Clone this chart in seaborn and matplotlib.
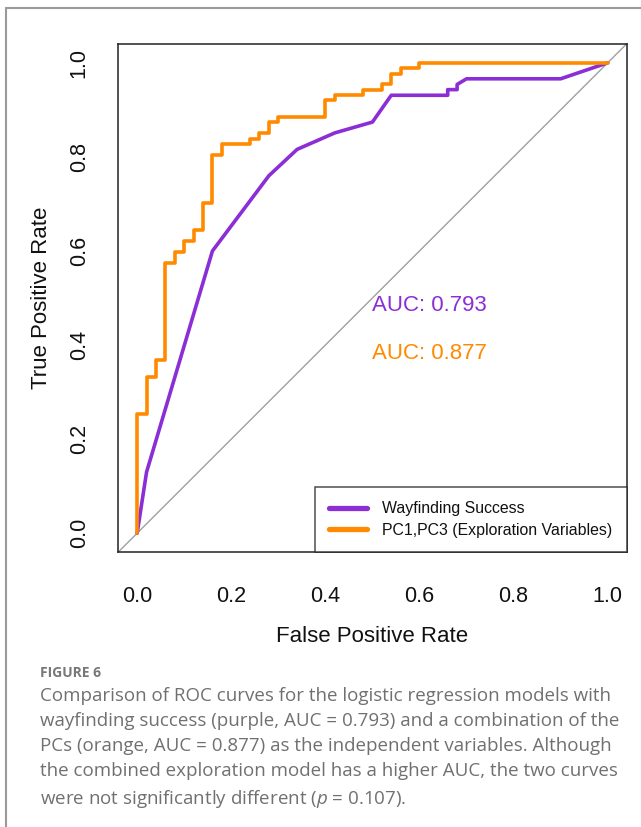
import matplotlib
matplotlib.use("Agg")
import matplotlib.pyplot as plt
from matplotlib.lines import Line2D
import seaborn as sns

# curvas ROC
fpr_wayfinding = [0.0, 0.02, 0.16, 0.28, 0.34, 0.42, 0.50, 0.54, 0.66, 0.66, 0.68, 0.68, 0.70, 0.90, 1.0]
tpr_wayfinding = [0.0, 0.13, 0.60, 0.76, 0.816, 0.851, 0.874, 0.931, 0.931, 0.943, 0.943, 0.954, 0.966, 0.966, 1.0]

fpr_pcs = [0.0, 0.0, 0.02, 0.04, 0.06, 0.08, 0.10, 0.12, 0.14, 0.16, 0.18, 0.24,
           0.26, 0.28, 0.30, 0.40, 0.42, 0.48, 0.52, 0.54, 0.56, 0.60, 1.0]
tpr_pcs = [0.0, 0.253, 0.333, 0.368, 0.575, 0.598, 0.621, 0.644, 0.701, 0.805, 0.828, 0.839,
           0.851, 0.874, 0.885, 0.920, 0.931, 0.943, 0.954, 0.977, 0.989, 1.0, 1.0]

auc_wayfinding = 0.793
auc_pcs = 0.877
legend_labels = ["Wayfinding Success", "PC1,PC3 (Exploration Variables)"]
tick_values = [0.0, 0.2, 0.4, 0.6, 0.8, 1.0]

caption_title = "FIGURE 6"
caption_text = (
    "Comparison of ROC curves for the logistic regression models with\n"
    "wayfinding success (purple, AUC = 0.793) and a combination of the\n"
    "PCs (orange, AUC = 0.877) as the independent variables. Although\n"
    "the combined exploration model has a higher AUC, the two curves\n"
    "were not significantly different ($\\mathit{p}$ = 0.107)."
)

PURPLE = "#8C2ED6"
ORANGE = "#FF8A00"

sns.set_style("white")
plt.rcParams["font.family"] = ["Liberation Sans", "DejaVu Sans"]
plt.rcParams["mathtext.fontset"] = "custom"
plt.rcParams["mathtext.rm"] = "Open Sans"
plt.rcParams["mathtext.it"] = "Open Sans:italic"

fig = plt.figure(figsize=(6.41, 8.27), dpi=100)
ax = fig.add_axes([0.1846, 0.3325, 0.7928, 0.6143])

ax.axline((0, 0), (1, 1), color="#a0a0a0", linewidth=1.0, zorder=1)
sns.lineplot(x=fpr_wayfinding, y=tpr_wayfinding, estimator=None, sort=False,
             color=PURPLE, linewidth=2.6, ax=ax, zorder=2)
sns.lineplot(x=fpr_pcs, y=tpr_pcs, estimator=None, sort=False,
             color=ORANGE, linewidth=2.6, drawstyle="steps-post", ax=ax, zorder=3)

ax.set_xlim(-0.04, 1.04)
ax.set_ylim(-0.04, 1.04)
ax.set_xticks(tick_values)
ax.set_yticks(tick_values)
ax.set_xticklabels([f"{v:.1f}" for v in tick_values])
ax.set_yticklabels([f"{v:.1f}" for v in tick_values], rotation=90, va="center")
ax.tick_params(direction="out", length=9.5, width=1.1, colors="#222222",
               labelsize=15.5, labelcolor="#111111")
ax.tick_params(axis="x", pad=15)
ax.tick_params(axis="y", pad=11)
for s in ax.spines.values():
    s.set_color("#222222")
    s.set_linewidth(1.1)

ax.set_xlabel("False Positive Rate", fontsize=16, color="#111111", labelpad=14)
ax.set_ylabel("True Positive Rate", fontsize=16, color="#111111", labelpad=12)

ax.text(0.5, 0.484, f"AUC: {auc_wayfinding:.3f}", color=PURPLE, fontsize=16, ha="left", va="center")
ax.text(0.5, 0.383, f"AUC: {auc_pcs:.3f}", color=ORANGE, fontsize=16, ha="left", va="center")

handles = [Line2D([], [], color=PURPLE, linewidth=3.8, solid_capstyle="round"),
           Line2D([], [], color=ORANGE, linewidth=3.8, solid_capstyle="round")]
leg = ax.legend(handles, legend_labels, loc="lower right", bbox_to_anchor=(1, 0),
                borderaxespad=0, fontsize=11.4, frameon=True, fancybox=False,
                edgecolor="#222222", handlelength=2.4, handletextpad=0.95,
                labelspacing=0.4, borderpad=0.9)
leg.get_frame().set_linewidth(1.1)
for t in leg.get_texts():
    t.set_color("#111111")

# moldura cinza da figura
fig.add_artist(Line2D([6 / 641, 1.0], [1 - 8 / 827, 1 - 8 / 827], transform=fig.transFigure,
                      color="#9a9a9a", linewidth=1.5))
fig.add_artist(Line2D([6 / 641, 6 / 641], [0.0, 1 - 8 / 827], transform=fig.transFigure,
                      color="#9a9a9a", linewidth=1.5))

fig.text(40 / 641, 1 - 673 / 827, caption_title, fontsize=10, color="#777777",
         family="Open Sans", fontweight="bold", va="center", ha="left")
fig.text(40 / 641, 1 - 687 / 827, caption_text, fontsize=13.5, color="#707070",
         family="Open Sans", va="top", ha="left", linespacing=1.5)

fig.savefig("out.png", dpi=100)
